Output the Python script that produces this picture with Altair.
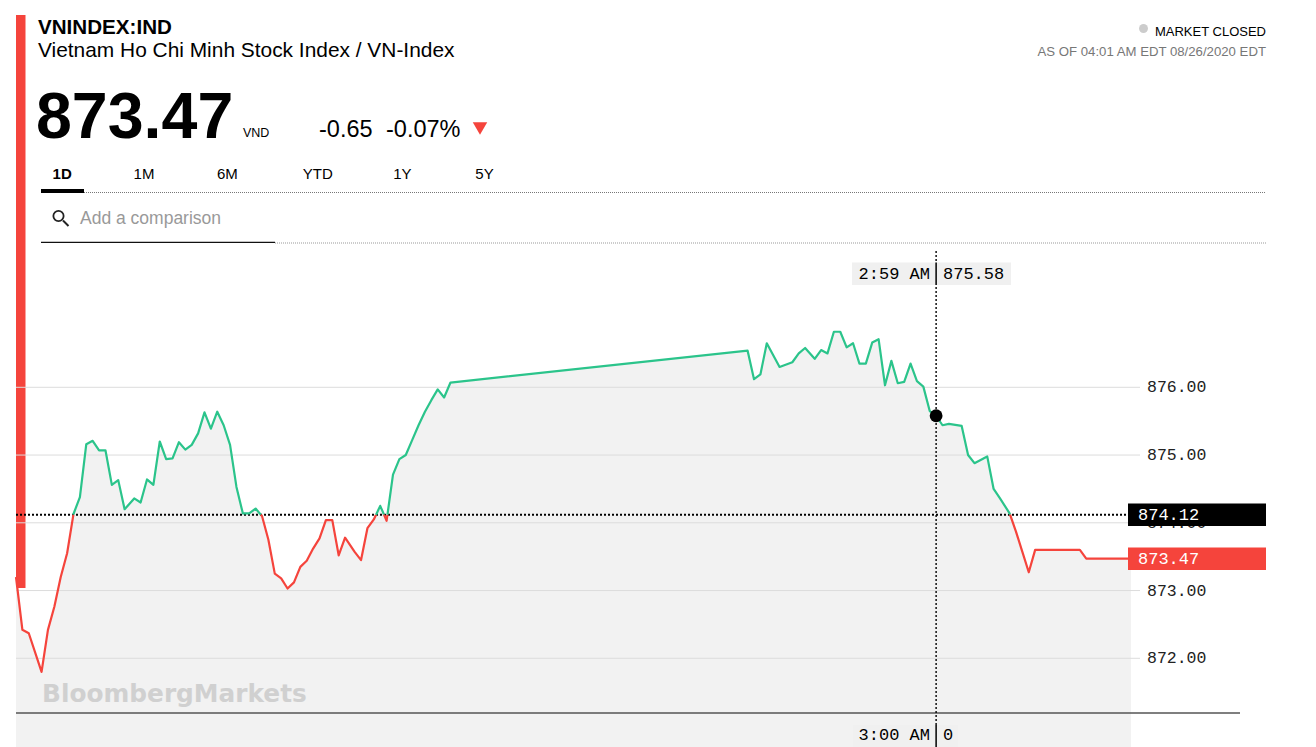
import altair as alt
import pandas as pd

# ---------------- data ----------------
times = [
    "22:11", "22:13", "22:15", "22:19", "22:21", "22:23", "22:25", "22:27", "22:29", "22:31",
    "22:33", "22:35", "22:37", "22:39", "22:41", "22:43", "22:45", "22:48", "22:50", "22:52",
    "22:54", "22:56", "22:58", "23:00", "23:02", "23:04", "23:06", "23:08", "23:10", "23:12",
    "23:14", "23:16", "23:18", "23:20", "23:22", "23:24", "23:26", "23:28", "23:30", "23:32",
    "23:34", "23:36", "23:38", "23:40", "23:42", "23:44", "23:46", "23:48", "23:50", "23:52",
    "23:54", "23:57", "23:59", "00:01", "00:03", "00:05", "00:07", "00:09", "00:11", "00:13",
    "00:15", "00:17", "00:19", "00:21", "00:23", "00:25", "00:27",
    "02:00", "02:02", "02:04", "02:06", "02:10", "02:14", "02:16", "02:18", "02:21", "02:23",
    "02:25", "02:27", "02:29", "02:31", "02:33", "02:35", "02:37", "02:39", "02:41", "02:43",
    "02:45", "02:47", "02:49", "02:51", "02:53", "02:55", "02:57", "02:59", "03:01", "03:03",
    "03:07", "03:09", "03:11", "03:15", "03:17", "03:19", "03:22", "03:24", "03:26", "03:28",
    "03:30", "03:44", "03:46", "04:00",
]
prices = [
    873.20, 872.42, 872.37, 871.80, 872.42, 872.76, 873.20, 873.55, 874.13, 874.38,
    875.16, 875.21, 875.07, 875.07, 874.56, 874.63, 874.20, 874.36, 874.30, 874.64,
    874.56, 875.20, 874.94, 874.95, 875.19, 875.08, 875.15, 875.32, 875.63, 875.39,
    875.64, 875.44, 875.15, 874.53, 874.14, 874.14, 874.21, 874.10, 873.75, 873.25,
    873.18, 873.03, 873.12, 873.35, 873.44, 873.62, 873.77, 874.04, 874.04, 873.52,
    873.78, 873.57, 873.45, 873.92, 874.05, 874.25, 874.03, 874.71, 874.94, 875.00,
    875.22, 875.44, 875.64, 875.81, 875.97, 875.85, 876.07,
    876.54, 876.12, 876.19, 876.65, 876.30, 876.37, 876.50, 876.58, 876.42, 876.55,
    876.50, 876.82, 876.82, 876.59, 876.65, 876.35, 876.35, 876.66, 876.71, 876.03,
    876.39, 876.06, 876.08, 876.35, 876.09, 876.01, 875.65, 875.58, 875.44, 875.46,
    875.43, 875.00, 874.88, 874.98, 874.50, 874.36, 874.14, 873.87, 873.57, 873.27,
    873.60, 873.60, 873.47, 873.47,
]
prev_close = 874.12
last_price = 873.47
y_ticks = [872, 873, 874, 875, 876]
y_tick_labels = ["872.00", "873.00", "874.00", "875.00", "876.00"]
hover_time = "02:59"
hover_price = 875.58
hover_label_top = ["2:59 AM", "875.58"]
hover_label_bottom = ["3:00 AM", "0"]
tabs = ["1D", "1M", "6M", "YTD", "1Y", "5Y"]

# ---------------- helpers ----------------
def to_min(s):
    h, m = map(int, s.split(":"))
    v = h * 60 + m
    return v - 1440 if h >= 12 else v

GREEN = "#2bc48b"
RED = "#f5443c"
SANS = "Liberation Sans"
MONO = "Liberation Mono"

tm = [to_min(s) for s in times]
df = pd.DataFrame({"t": tm, "v": prices})

# split line into above / below previous close segments
rows = []
seg = 0
prev = None
for t, v in zip(tm, prices):
    side = "up" if v >= prev_close else "down"
    if prev is not None and side != prev[2]:
        pt, pv, ps = prev
        tc = pt + (prev_close - pv) * (t - pt) / (v - pv)
        rows.append(dict(t=tc, v=prev_close, seg=seg, side=ps))
        seg += 1
        rows.append(dict(t=tc, v=prev_close, seg=seg, side=side))
    rows.append(dict(t=t, v=v, seg=seg, side=side))
    prev = (t, v, side)
segdf = pd.DataFrame(rows)

xs = alt.Scale(domain=[-109, 240], range=[16, 1131], nice=False, zero=False)
ys = alt.Scale(domain=[871, 877], range=[726.05, 319.55], nice=False, zero=False)
X = lambda f="t": alt.X(f"{f}:Q", scale=xs, axis=None)
Y = lambda f="v": alt.Y(f"{f}:Q", scale=ys, axis=None)

one = pd.DataFrame({"a": [0]})


def txt(s, x, y, size, color="#000", weight="normal", font=SANS, align="left", baseline="alphabetic"):
    return alt.Chart(one).mark_text(
        text=s, fontSize=size, color=color, fontWeight=weight, font=font,
        align=align, baseline=baseline,
    ).encode(x=alt.value(x), y=alt.value(y))


def rect(x, x2, y, y2, color):
    return alt.Chart(one).mark_rect(color=color).encode(
        x=alt.value(x), x2=alt.value(x2), y=alt.value(y), y2=alt.value(y2))


def hline(x, x2, y, color, width=1, dash=None):
    kw = dict(color=color, strokeWidth=width)
    if dash:
        kw["strokeDash"] = dash
    return alt.Chart(one).mark_rule(**kw).encode(
        x=alt.value(x), x2=alt.value(x2), y=alt.value(y))


layers = []

# left red accent bar
layers.append(rect(16, 25.5, 15, 588, RED))

# area under the line
layers.append(alt.Chart(df).mark_area(color="#f2f2f2").encode(x=X(), y=Y(), y2=alt.value(747)))

# gridlines + labels
tick_df = pd.DataFrame({"v": y_ticks, "label": y_tick_labels})
layers.append(alt.Chart(tick_df).mark_rule(color="#dcdcdc", strokeWidth=1).encode(
    y=Y(), x=alt.value(16), x2=alt.value(1140)))
layers.append(alt.Chart(tick_df).mark_text(font=MONO, fontSize=16.5, color="#222", align="left",
                                           baseline="middle").encode(
    y=Y(), x=alt.value(1147), text="label:N"))

# bottom axis line
layers.append(hline(16, 1240, 713, "#555", 1.6))

# watermark
layers.append(txt("BloombergMarkets", 42, 702, 24.8, color="#d0d0d0", weight="bold", font="DejaVu Sans"))

# previous close dotted line
pc_df = pd.DataFrame({"v": [prev_close], "label": [f"{prev_close:.2f}"]})
layers.append(alt.Chart(pc_df).mark_rule(color="#000", strokeWidth=2, strokeDash=[2, 2]).encode(
    y=Y(), x=alt.value(16), x2=alt.value(1128)))

# crosshair vertical
hv_df = pd.DataFrame({"t": [to_min(hover_time)], "v": [hover_price]})
layers.append(alt.Chart(hv_df).mark_rule(color="#000", strokeWidth=1.4, strokeDash=[2, 2]).encode(
    x=X(), y=alt.value(251), y2=alt.value(747)))

# price line
layers.append(alt.Chart(segdf).mark_line(strokeWidth=2.2, strokeJoin="round").encode(
    x=X(), y=Y(), detail="seg:N",
    color=alt.Color("side:N", scale=alt.Scale(domain=["up", "down"], range=[GREEN, RED]), legend=None)))

# hover dot
layers.append(alt.Chart(hv_df).mark_point(filled=True, color="#000", size=165, opacity=1).encode(x=X(), y=Y()))

# prev close and last price boxes
lp_df = pd.DataFrame({"v": [last_price], "label": [f"{last_price:.2f}"]})
layers.append(alt.Chart(pc_df).mark_rule(color="#000", strokeWidth=22.5).encode(
    y=Y(), x=alt.value(1128), x2=alt.value(1266)))
layers.append(alt.Chart(pc_df).mark_text(font=MONO, fontSize=17, color="#fff", align="left",
                                         baseline="middle").encode(y=Y(), x=alt.value(1138), text="label:N"))
layers.append(alt.Chart(lp_df).mark_rule(color=RED, strokeWidth=22.5).encode(
    y=Y(), x=alt.value(1128), x2=alt.value(1266)))
layers.append(alt.Chart(lp_df).mark_text(font=MONO, fontSize=17, color="#fff", align="left",
                                         baseline="middle").encode(y=Y(), x=alt.value(1138), text="label:N"))

# crosshair labels
layers.append(rect(852, 1011, 262.5, 285, "#f0f0f0"))
layers.append(txt(hover_label_top[0], 930, 274, 17, font=MONO, align="right", baseline="middle"))
layers.append(txt(hover_label_top[1], 943, 274, 17, font=MONO, align="left", baseline="middle"))
layers.append(alt.Chart(hv_df).mark_rule(color="#000", strokeWidth=1.5).encode(
    x=X(), y=alt.value(262.5), y2=alt.value(285)))
layers.append(rect(853, 958, 725, 747, "#f0f0f0"))
layers.append(txt(hover_label_bottom[0], 930, 735, 17, font=MONO, align="right", baseline="middle"))
layers.append(txt(hover_label_bottom[1], 943, 735, 17, font=MONO, align="left", baseline="middle"))
layers.append(alt.Chart(hv_df).mark_rule(color="#000", strokeWidth=1.5).encode(
    x=X(), y=alt.value(725), y2=alt.value(747)))

# header
layers.append(txt("VNINDEX:IND", 38, 34, 20.6, weight="bold"))
layers.append(txt("Vietnam Ho Chi Minh Stock Index / VN-Index", 38, 57, 20.9))
layers.append(txt(f"{last_price:.2f}", 36, 138, 64.5, weight="bold"))
layers.append(txt("VND", 243, 137, 12.5))
layers.append(txt(f"{last_price - prev_close:.2f}", 319, 137, 23.5))
layers.append(txt(f"{(last_price - prev_close) / prev_close * 100:.2f}%", 386, 137, 23.5))
layers.append(alt.Chart(one).mark_point(shape="triangle-down", filled=True, color=RED, size=210, opacity=1).encode(
    x=alt.value(480), y=alt.value(128.5)))

# top right
layers.append(alt.Chart(one).mark_point(shape="circle", filled=True, color="#cccccc", size=80, opacity=1).encode(
    x=alt.value(1143.5), y=alt.value(28.5)))
layers.append(txt("MARKET CLOSED", 1266, 36, 13, align="right"))
layers.append(txt("AS OF 04:01 AM EDT 08/26/2020 EDT", 1266, 56, 13.2, color="#777", align="right"))

# tabs
tab_x = [62.2, 144, 227.3, 317.8, 402.3, 484.5]
for name, cx in zip(tabs, tab_x):
    layers.append(txt(name, cx, 179, 15, weight="bold" if name == "1D" else "normal", align="center"))
layers.append(rect(41, 84, 189, 193, "#000"))
layers.append(hline(84, 1266, 192.5, "#777", 1, [1, 1]))

# comparison search
layers.append(alt.Chart(one).mark_point(shape="circle", filled=False, color="#222", strokeWidth=1.8,
                                        size=105, opacity=1).encode(x=alt.value(58.5), y=alt.value(216)))
layers.append(alt.Chart(one).mark_rule(color="#222", strokeWidth=2).encode(
    x=alt.value(63), x2=alt.value(68.5), y=alt.value(220.5), y2=alt.value(226)))
layers.append(txt("Add a comparison", 80, 224, 17.5, color="#999"))
layers.append(hline(41, 275, 242.3, "#111", 1.3))
layers.append(hline(275, 1266, 243, "#999", 1, [1, 1]))

chart = alt.layer(*layers).properties(
    width=1316, height=747,
    autosize=alt.AutoSizeParams(type="none"),
    padding=0,
    background="white",
).configure_view(stroke=None)

chart.save("out.html", embed_options={"renderer": "svg", "actions": False})
